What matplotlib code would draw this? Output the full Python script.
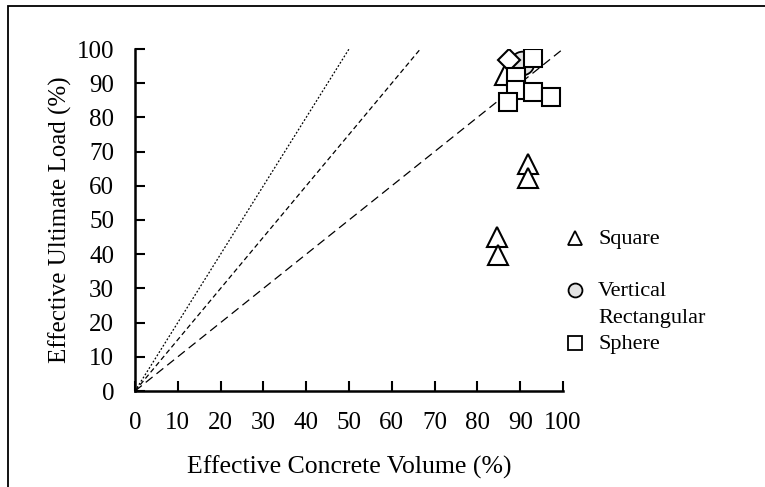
import numpy as np
from matplotlib import pyplot as plt
from matplotlib import patches

plt.rcParams['font.family'] = ['Liberation Serif', 'DejaVu Serif']

# data
square_x = [84.6, 84.7, 91.9, 91.9, 86.4]
square_y = [45.0, 39.8, 66.5, 62.3, 92.5]
diamond_x = [87.3]
diamond_y = [96.8]
vert_x = [90.4]
vert_y = [96.0]
sphere_x = [93.0, 89.0, 89.0, 93.0, 97.2, 87.1]
sphere_y = [97.4, 91.8, 88.0, 87.4, 86.0, 84.5]
# reference lines through origin: load = k * volume
slopes = [2.0, 1.5, 1.0]
line_styles = [(0, (1.5, 1.5)), (0, (4, 2.5)), (0, (7, 4))]
ticks = np.arange(0, 101, 10)

fig = plt.figure(figsize=(7.65, 4.87), dpi=100)
ax = fig.add_axes([135/765, 1 - 391/487, (563 - 135)/765, (391 - 49)/487])

# outer frame (left and top edges visible only)
fig.patches.append(patches.Rectangle((8/765, -0.5), 1.5, 1 - 6/487 + 0.5,
                                     transform=fig.transFigure, fill=False,
                                     lw=1.3, ec='black'))

for k, ls in zip(slopes, line_styles):
    xx = np.array([0, 100 / k])
    ax.plot(xx, k * xx, color='black', lw=0.9, linestyle=ls)

ax.plot(square_x, square_y, '^', ms=14, mfc='white', mec='black', mew=1.5, ls='none')
ax.plot(vert_x, vert_y, 'o', ms=17, mfc='#e3e3e3', mec='black', mew=1.3, ls='none')
ax.plot(diamond_x, diamond_y, 'D', ms=11, mfc='white', mec='black', mew=1.5, ls='none')
ax.plot(sphere_x, sphere_y, 's', ms=13, mfc='white', mec='black', mew=1.5, ls='none')

ax.set_xlim(0, 100)
ax.set_ylim(0, 100)
ax.set_xticks(ticks)
ax.set_yticks(ticks)
ax.tick_params(direction='in', length=7, width=1.5, labelsize=18, pad=15)
ax.tick_params(axis='y', pad=15)
for s in ['top', 'right']:
    ax.spines[s].set_visible(False)
for s in ['left', 'bottom']:
    ax.spines[s].set_linewidth(1.8)

ax.set_xlabel('Effective Concrete Volume (%)', fontsize=18.5, labelpad=16)
ax.set_ylabel('Effective Ultimate Load (%)', fontsize=18, labelpad=3)

# legend drawn at the right, outside the axes
leg_x = 575
leg_items = [('^', 'white', 'Square', 238),
             ('o', '#e3e3e3', 'Vertical\nRectangular', 290),
             ('s', 'white', 'Sphere', 343)]
for m, fc, lab, py in leg_items:
    fig.add_artist(plt.Line2D([leg_x/765], [1 - py/487], marker=m, ms=10,
                              mfc=fc, mec='black', mew=1.3, ls='none',
                              transform=fig.transFigure))
    fig.text(598/765, 1 - (py - 8)/487, lab, fontsize=16, va='top', ha='left',
             linespacing=1.6)

fig.savefig('out.png', dpi=100)
